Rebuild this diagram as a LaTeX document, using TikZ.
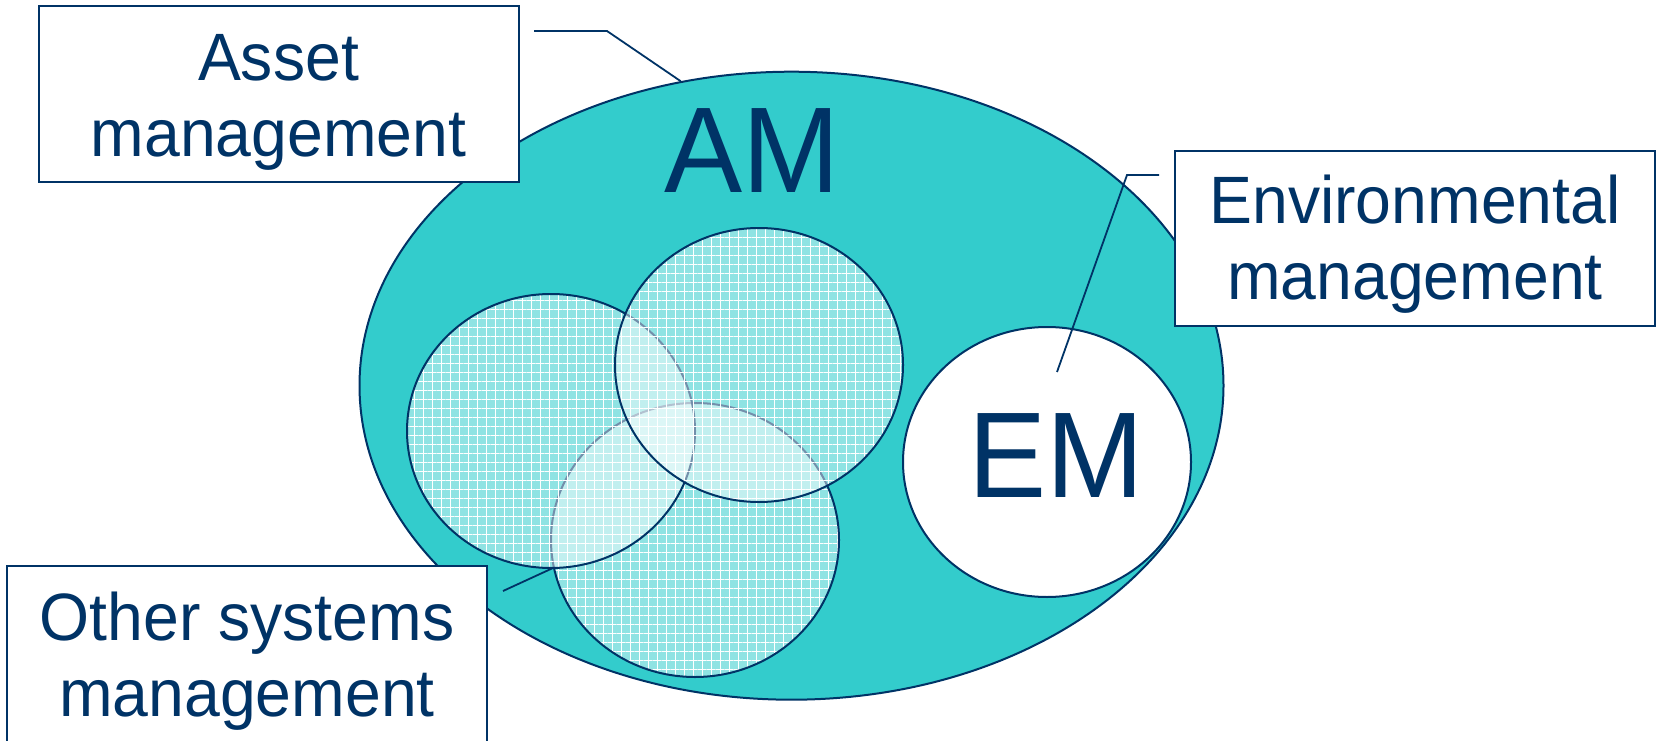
\documentclass[tikz,border=0pt]{standalone}
\usepackage{fontspec}
\setmainfont{Liberation Sans}[FakeStretch=0.96]
\usetikzlibrary{shapes.geometric,patterns.meta}
\definecolor{navy}{HTML}{003366}
\definecolor{amteal}{HTML}{33CCCC}

\begin{document}
\begin{tikzpicture}[x=1pt,y=-1pt,
  labelbox/.style={draw=navy,line width=2pt,fill=white,rectangle,minimum width=480pt,inner sep=0pt},
  labeltext/.style={text=navy,align=center,inner sep=0pt,font=\fontsize{67}{76}\selectfont},
  bigtext/.style={text=navy,inner sep=0pt,font=\fontsize{122}{122}\selectfont},
  subsys/.style={ellipse,draw=navy,line width=2pt,fill=white,fill opacity=0.45,minimum width=288pt,minimum height=274pt,inner sep=0pt,
    preaction={pattern={Hatch[angle=0,distance=9pt,line width=0.9pt]},pattern color=white,fill opacity=0.8}},
  callout/.style={draw=navy,line width=1.8pt}]
\useasboundingbox (0,0) rectangle (1657,741);
% sets
\node[ellipse,draw=navy,line width=2pt,fill=amteal,minimum width=864pt,minimum height=628pt,inner sep=0pt] (amset) at (791.5,385.7) {};
\node[ellipse,draw=navy,line width=2pt,fill=white,minimum width=288pt,minimum height=270pt,inner sep=0pt] (emset) at (1047,462) {};
\node[subsys] (other3) at (695,540) {};
\node[subsys] (other1) at (551,431) {};
\node[subsys] (other2) at (759,365) {};
\node[bigtext] (amlabel) at (752.5,151) {AM};
\node[bigtext] (emlabel) at (1056,456) {EM};
% boxes
\node[labelbox,minimum height=176pt] (assetbox) at (278.5,94) {};
\node[labeltext] (assettext) at (278.5,102) {Asset\\management};
\node[labelbox,minimum height=175pt] (envbox) at (1415,238.5) {};
\node[labeltext] (envtext) at (1415,244) {Environmental\\management};
\node[labelbox,minimum height=200pt] (otherbox) at (247,666) {};
\node[labeltext] (othertext) at (247,661) {Other systems\\management};
% callouts
\coordinate (assetend) at (534,31);
\coordinate (assetknee) at (607,31);
\coordinate (envend) at (1159,175);
\coordinate (envknee) at (1127,175);
\coordinate (envtip) at (1057,372);
\coordinate (otherend) at (503,591);
\coordinate (othertip) at (553,568);
\path[callout] (assetend) -- (assetknee) -- (amset.110.4);
\path[callout] (envend) -- (envknee) -- (envtip);
\path[callout] (otherend) -- (othertip);
\end{tikzpicture}
\end{document}
